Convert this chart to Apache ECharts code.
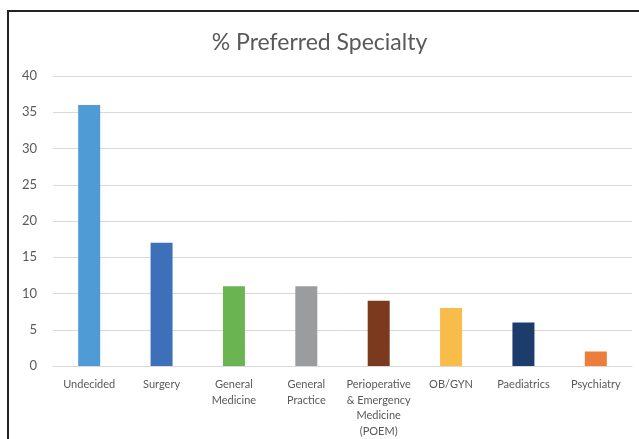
<!DOCTYPE html>
<html><head><meta charset="utf-8">
<script src="https://cdn.jsdelivr.net/npm/echarts@6/dist/echarts.min.js"></script>
<style>html,body{margin:0;padding:0;background:#fff}#c{width:639px;height:439px}</style>
</head><body><div id="c"></div>
<script>
const categories = ["Undecided","Surgery","General Medicine","General Practice","Perioperative & Emergency Medicine (POEM)","OB/GYN","Paediatrics","Psychiatry"];
const categoryLabels = ["Undecided","Surgery","General\nMedicine","General\nPractice","Perioperative\n& Emergency\nMedicine\n(POEM)","OB/GYN","Paediatrics","Psychiatry"];
const values = [36,17,11,11,9,8,6,2];
const barColors = ["#4e9bd6","#3d70b9","#6ab552","#9a9c9d","#7b3a1e","#f8bc4a","#1c3c6b","#ed7d3b"];
const yTicks = [0,5,10,15,20,25,30,35,40];

const chart = echarts.init(document.getElementById('c'));
const font = 'Lato, "Open Sans", sans-serif';
chart.setOption({
  animation:false,
  title:{text:"% Preferred Specialty",left:'center',top:26,textStyle:{fontFamily:font,fontSize:23,fontWeight:'normal',color:'#595959'}},
  grid:{left:53,right:7,top:76,bottom:70,containLabel:false},
  graphic:[{type:'polyline',shape:{points:[[8,440],[8,11],[640,11]]},style:{stroke:'#222',lineWidth:2,fill:null}}],
  xAxis:{type:'category',data:categories,
    axisTick:{show:false},axisLine:{lineStyle:{color:'#d9d9d9',width:1}},
    axisLabel:{interval:0,margin:11,fontFamily:font,fontSize:11,color:'#595959',lineHeight:15.5,
      formatter:(v,i)=>categoryLabels[i]}},
  yAxis:{type:'value',min:yTicks[0],max:yTicks[yTicks.length-1],interval:5,
    axisLine:{show:false},axisTick:{show:false},
    splitLine:{lineStyle:{color:'#d9d9d9',width:1}},
    axisLabel:{margin:16,fontFamily:font,fontSize:13,color:'#595959'}},
  series:[{type:'bar',barWidth:22,
    data:values.map((v,i)=>({value:v,itemStyle:{color:barColors[i]}}))}]
});
</script></body></html>
